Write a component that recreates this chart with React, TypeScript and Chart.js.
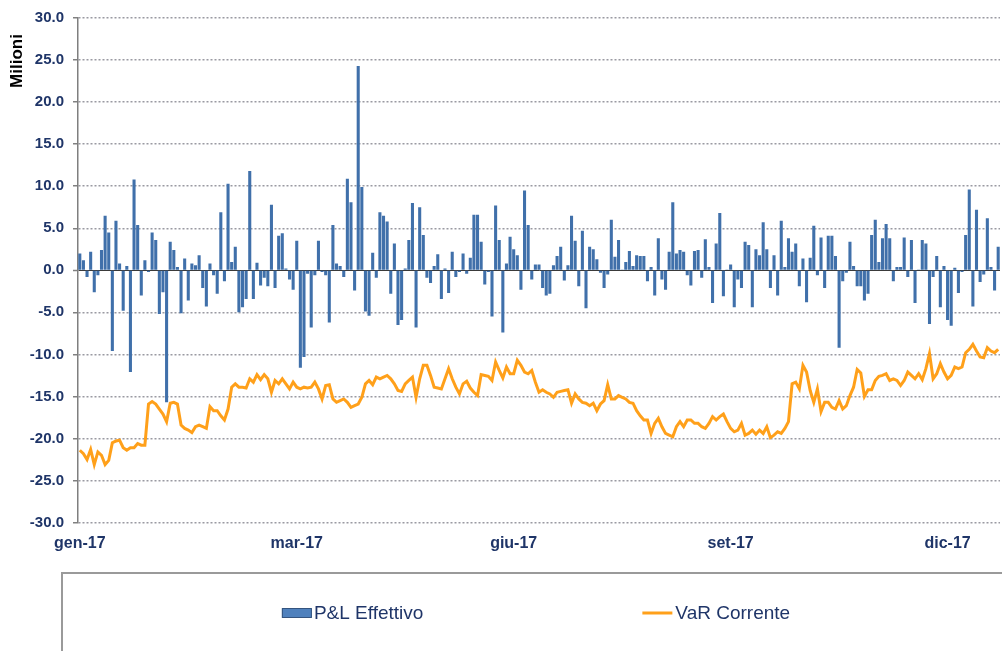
import React, { useEffect, useRef } from "react";
import { Chart, registerables } from "chart.js";

Chart.register(...registerables);

// ---- data (values in millions) ----
const tickLabels = ["gen-17", "mar-17", "giu-17", "set-17", "dic-17"];
const tickStep = 60; // business days between labelled ticks

const pnlEffettivo = [
  2.0, 1.2, -0.8, 2.2, -2.6, -0.6, 2.4, 6.5, 4.5, -9.6,
  5.9, 0.8, -4.8, 0.5, -12.1, 10.8, 5.4, -3.0, 1.2, -0.2,
  4.5, 3.6, -5.2, -2.6, -15.7, 3.4, 2.4, 0.4, -5.1, 1.4,
  -3.6, 0.8, 0.6, 1.8, -2.1, -4.3, 0.8, -0.6, -2.8, 6.9,
  -1.3, 10.3, 1.0, 2.8,
  -5.0, -4.4, -3.4, 11.8, -3.4, 0.9, -1.8, -0.9, -1.9, 7.8,
  -2.1, 4.1, 4.4, 0.2, -1.1, -2.3, 3.5, -11.6, -10.3, -0.4,
  -6.8, -0.6, 3.5, -0.2, -0.6, -6.2, 5.4, 0.8, 0.5, -0.8,
  10.9, 8.1, -2.4, 24.3, 9.9, -4.9, -5.4, 2.1, -0.9, 6.9,
  6.5, 5.8,
  -2.8, 3.2, -6.5, -5.9, 0.2, 3.6, 8.0, -6.8, 7.5, 4.2,
  -0.9, -1.5, 0.5, 1.9, -3.4, 0.2, -2.7, 2.2, -0.8, -0.2,
  2.0, -0.4, 1.5, 6.6, 6.6, 3.4, -1.7, -0.2, -5.5, 7.7,
  3.6, -7.4, 0.8, 4.0, 2.5, 1.8, -2.3, 9.5, 5.4, -1.1,
  0.7, 0.7, -2.1,
  -3.0, -2.8, 0.6, 1.7, 2.8, -1.2, 0.6, 6.5, 3.5, -1.9,
  4.7, -4.5, 2.8, 2.5, 1.3, -0.3, -2.1, -0.5, 6.0, 1.6,
  3.6, 0.1, 1.0, 2.3, 0.5, 1.8, 1.7, 1.7, -1.3, 0.4,
  -3.0, 3.8, -1.1, -2.3, 2.2, 8.1, 2.0, 2.4, 2.2, -0.6,
  -1.8, 2.3, 2.4,
  -0.9, 3.7, 0.4, -3.9, 3.2, 6.8, -3.1, 0.1, 0.7, -4.4,
  -1.1, -2.1, 3.4, 3.0, -4.4, 2.5, 1.8, 5.7, 2.5, -2.1,
  1.8, -3.0, 5.9, 0.4, 3.8, 2.2, 3.2, -1.9, 1.4, -3.8,
  1.5, 5.3, -0.6, 3.9, -2.1, 4.1, 4.1, 1.7, -9.2, -1.3,
  -0.3, 3.4, 0.5,
  -1.9, -1.9, -3.6, -2.8, 4.2, 6.0, 1.0, 3.8, 5.5, 3.8,
  -1.3, 0.4, 0.4, 3.9, -0.8, 3.6, -3.9, 0.1, 3.6, 3.2,
  -6.4, -0.8, 1.7, -4.4, 0.5, -5.9, -6.6, 0.3, -2.7, -0.2,
  4.2, 9.6, -4.3, 7.2, -1.4, -0.5, 6.2, 0.4, -2.4, 2.8,
];

const varCorrente = [
  -21.4, -21.8, -22.5, -21.3, -23.1, -21.6, -22.0, -23.1, -22.6, -20.5,
  -20.3, -20.2, -21.1, -21.4, -21.1, -21.1, -20.6, -20.8, -20.8, -15.9,
  -15.6, -15.9, -16.5, -17.1, -18.0, -15.8, -15.7, -15.9, -18.4, -18.8,
  -19.0, -19.3, -18.6, -18.4, -18.6, -18.8, -16.2, -16.7, -16.7, -17.3,
  -17.8, -16.5, -13.9, -13.5,
  -13.9, -13.9, -14.0, -12.9, -13.3, -12.4, -13.0, -12.4, -12.9, -14.5,
  -13.1, -13.5, -12.9, -13.5, -14.1, -13.3, -13.9, -14.1, -13.9, -14.0,
  -13.9, -13.3, -14.1, -15.3, -13.7, -13.6, -15.3, -15.7, -15.5, -15.3,
  -15.7, -16.3, -16.1, -15.9, -15.1, -13.5, -13.1, -13.6, -12.7, -12.9,
  -12.7, -12.5,
  -12.9, -13.5, -14.3, -14.4, -13.5, -13.1, -12.7, -15.1, -12.9, -11.3,
  -11.3, -12.5, -13.9, -14.0, -14.1, -12.9, -11.7, -12.9, -13.9, -14.7,
  -13.5, -13.2, -14.0, -14.5, -14.9, -12.4, -12.5, -12.6, -13.1, -10.9,
  -11.9, -12.8, -11.5, -12.3, -12.3, -10.7, -11.3, -12.1, -12.3, -11.9,
  -13.3, -14.5, -14.2,
  -14.5, -14.7, -15.1, -14.5, -14.4, -14.3, -14.2, -15.8, -14.7, -15.3,
  -15.7, -15.8, -16.1, -15.8, -16.7, -15.9, -15.5, -13.6, -15.3, -15.3,
  -14.9, -15.1, -15.3, -15.7, -15.8, -16.7, -17.3, -17.8, -17.8, -19.4,
  -18.2, -17.6, -18.6, -19.4, -19.6, -19.8, -18.6, -18.0, -18.6, -17.8,
  -17.8, -18.2, -18.2,
  -18.6, -18.8, -18.2, -17.4, -17.8, -17.4, -17.1, -18.0, -18.8, -19.2,
  -19.0, -18.2, -19.6, -19.4, -19.0, -19.5, -19.0, -19.4, -18.6, -19.9,
  -19.6, -19.2, -19.4, -18.8, -18.0, -13.5, -13.3, -14.1, -11.3, -12.1,
  -14.3, -15.7, -14.1, -16.8, -15.7, -15.7, -16.3, -16.5, -15.5, -16.5,
  -16.1, -14.9, -13.9,
  -11.8, -12.2, -15.0, -14.2, -14.2, -13.1, -12.6, -12.5, -12.3, -13.1,
  -12.9, -13.1, -13.7, -13.1, -12.1, -12.5, -12.9, -12.3, -13.0, -11.7,
  -9.9, -12.9, -12.3, -11.1, -12.1, -12.9, -12.5, -11.5, -11.7, -11.5,
  -9.8, -9.4, -8.8, -9.6, -10.3, -10.4, -9.2, -9.6, -9.8, -9.4,
];

const categories = pnlEffettivo.map((_, i) =>
  i % tickStep === 0 && tickLabels[i / tickStep] ? tickLabels[i / tickStep] : ""
);

const FONT = '"Liberation Sans", Arial, Helvetica, sans-serif';
const NAVY = "#1f3568";

const decorPlugin = {
  id: "decor",
  afterDraw(chart: any) {
    const { ctx, chartArea } = chart;
    // y axis title
    ctx.save();
    ctx.translate(17, 61);
    ctx.rotate(-Math.PI / 2);
    ctx.font = `bold 17px ${FONT}`;
    ctx.fillStyle = "#000000";
    ctx.textAlign = "center";
    ctx.textBaseline = "middle";
    ctx.fillText("Milioni", 0, 0);
    ctx.restore();

    // legend frame
    ctx.save();
    ctx.strokeStyle = "#9a9a9a";
    ctx.lineWidth = 2;
    ctx.strokeRect(62, 573, chart.width + 20, 120);
    ctx.restore();

    // legend items
    const ds = chart.data.datasets;
    const bar = ds[0];
    const line = ds[1];
    ctx.save();
    ctx.font = `19px ${FONT}`;
    ctx.textBaseline = "middle";
    ctx.textAlign = "left";
    const y = 613;
    const w1 = ctx.measureText(bar.label).width;
    const w2 = ctx.measureText(line.label).width;
    const gap = 219;
    const total = 30 + 2 + w1 + gap + 30 + 3 + w2;
    let x = (chartArea.left + chartArea.right) / 2 - total / 2 - 3;
    ctx.fillStyle = "#4f81bd";
    ctx.strokeStyle = "#34547f";
    ctx.lineWidth = 1;
    ctx.fillRect(x, y - 4.5, 30, 9);
    ctx.strokeRect(x + 0.5, y - 4.5, 29, 9);
    x += 32;
    ctx.fillStyle = NAVY;
    ctx.fillText(bar.label, x, y + 1);
    x += w1 + gap;
    ctx.strokeStyle = line.borderColor;
    ctx.lineWidth = 3;
    ctx.beginPath();
    ctx.moveTo(x, y);
    ctx.lineTo(x + 30, y);
    ctx.stroke();
    x += 33;
    ctx.fillStyle = NAVY;
    ctx.fillText(line.label, x, y + 1);
    ctx.restore();
  },
};

export default function App() {
  const canvasRef = useRef<HTMLCanvasElement | null>(null);

  useEffect(() => {
    if (!canvasRef.current) return;
    const chart = new Chart(canvasRef.current, {
      type: "bar",
      data: {
        labels: categories,
        datasets: [
          {
            type: "bar",
            label: "P&L Effettivo",
            data: pnlEffettivo,
            backgroundColor: "#4070aa",
            borderWidth: 0,
            inflateAmount: 0,
            barPercentage: 0.85,
            categoryPercentage: 1,
            order: 2,
          } as any,
          {
            type: "line",
            label: "VaR Corrente",
            data: varCorrente,
            borderColor: "#ffa01a",
            backgroundColor: "#ffa01a",
            borderWidth: 3,
            pointRadius: 0,
            tension: 0,
            order: 1,
          } as any,
        ],
      },
      options: {
        responsive: false,
        animation: false,
        layout: { padding: { top: 16, right: 2, bottom: 0, left: 0 } },
        plugins: {
          legend: { display: false },
          tooltip: { enabled: false },
          title: { display: false },
        },
        scales: {
          x: {
            type: "category",
            offset: true,
            grid: {
              display: true,
              drawOnChartArea: false,
              drawTicks: true,
              tickLength: 11,
              tickColor: "rgba(0,0,0,0)",
              color: "rgba(0,0,0,0)",
            },
            border: { display: false },
            ticks: {
              autoSkip: false,
              maxRotation: 0,
              minRotation: 0,
              padding: 0,
              color: NAVY,
              font: { family: FONT, size: 16, weight: "bold" },
            },
            afterFit: (scale: any) => {
              scale.height = 128.4;
            },
          },
          y: {
            min: -30,
            max: 30,
            ticks: {
              stepSize: 5,
              padding: 9,
              color: NAVY,
              font: { family: FONT, size: 15, weight: "bold" },
              callback: (v: any) => Number(v).toFixed(1),
            },
            grid: {
              color: (c: any) => (c.tick && c.tick.value === 0 ? "#3a3a3a" : "#9a9aa2"),
              lineWidth: (c: any) => (c.tick && c.tick.value === 0 ? 1 : 1.5),
              drawTicks: true,
              tickLength: 5,
              tickColor: "#808080",
              tickWidth: 1.5,
              tickBorderDash: [],
            } as any,
            border: {
              display: true,
              color: "#7f7f7f",
              width: 1.5,
              dash: (c: any) => (c.tick && c.tick.value === 0 ? [] : [2, 2]),
            } as any,
            afterFit: (scale: any) => {
              scale.width = 78;
            },
          },
        },
      },
      plugins: [decorPlugin],
    });
    return () => chart.destroy();
  }, []);

  return (
    <div style={{ position: "fixed", left: 0, top: 0, width: 1002, height: 651, background: "#ffffff" }}>
      <canvas ref={canvasRef} width={1002} height={651} style={{ display: "block" }} />
    </div>
  );
}
